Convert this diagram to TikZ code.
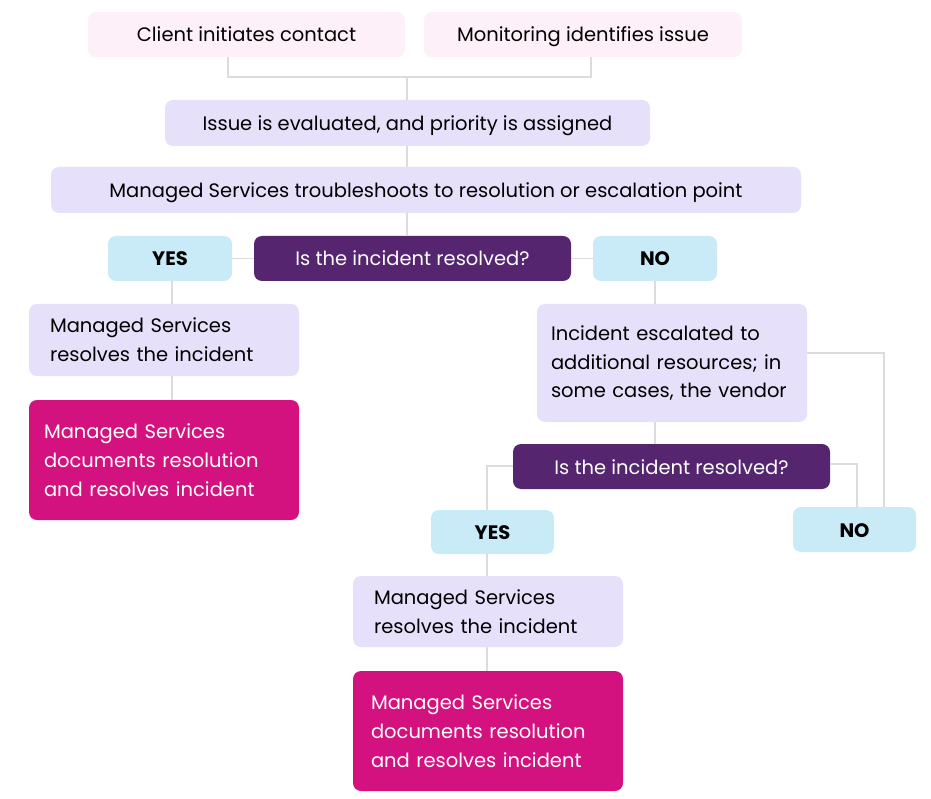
\documentclass[tikz,border=0pt]{standalone}
\usepackage{fontspec}
\setmainfont{Poppins}
\definecolor{pinkbg}{HTML}{FDF0F8}
\definecolor{lav}{HTML}{E7E0FB}
\definecolor{dpurple}{HTML}{55256F}
\definecolor{lblue}{HTML}{C9EAF7}
\definecolor{magenta2}{HTML}{D4127F}
\definecolor{conn}{HTML}{DCDCDC}
\begin{document}
\begin{tikzpicture}[x=1pt,y=-1pt,
  base/.style={rectangle,rounded corners=8pt,inner sep=0pt,font=\fontsize{19.5}{28.7}\selectfont},
  oneline/.style={text height=18pt,text depth=3pt},
  topbox/.style={base,oneline,fill=pinkbg,text=black},
  lavbox/.style={base,fill=lav,text=black},
  decbox/.style={base,oneline,fill=dpurple,text=white},
  ansbox/.style={base,oneline,fill=lblue,text=black,font=\fontsize{19.5}{28}\selectfont\bfseries},
  docbox/.style={base,fill=magenta2,text=white},
  conn/.style={draw=conn,line width=1.2pt}]
\useasboundingbox (0,0) rectangle (931,799);
\fill[white] (0,0) rectangle (931,799);
% nodes
\node[topbox,minimum width=317pt,minimum height=45pt] (client) at (246.5,34.5) {Client initiates contact};
\node[topbox,minimum width=318pt,minimum height=45pt] (monit) at (583,34.5) {Monitoring identifies issue};
\node[lavbox,oneline,minimum width=485pt,minimum height=46pt] (issue) at (407.5,123) {Issue is evaluated, and priority is assigned};
\node[lavbox,oneline,minimum width=750pt,minimum height=46pt] (trouble) at (426,190) {Managed Services troubleshoots to resolution or escalation point};
\node[decbox,minimum width=317pt,minimum height=45pt] (dec1) at (412.5,258.5) {Is the incident resolved?};
\node[ansbox,minimum width=124pt,minimum height=45pt] (yes1) at (170,258.5) {YES};
\node[ansbox,minimum width=124pt,minimum height=45pt] (no1) at (655,258.5) {NO};
\node[lavbox,text width=228pt,inner xsep=21pt,minimum height=72pt,align=left] (res1) at (164,340) {Managed Services\\resolves the incident};
\node[docbox,text width=240pt,inner xsep=15pt,minimum height=120pt,align=left] (doc1) at (164,460) {Managed Services\\documents resolution\\and resolves incident};
\node[lavbox,text width=242pt,inner xsep=14pt,minimum height=118pt,align=left] (esc) at (672,363) {Incident escalated to\\additional resources; in\\some cases, the vendor};
\node[decbox,minimum width=317pt,minimum height=45pt] (dec2) at (671.5,466.5) {Is the incident resolved?};
\node[ansbox,minimum width=123pt,minimum height=44pt] (yes2) at (492.5,532) {YES};
\node[ansbox,minimum width=123pt,minimum height=45pt] (no2) at (854.5,529.5) {NO};
\node[lavbox,text width=228pt,inner xsep=21pt,minimum height=71pt,align=left] (res2) at (488,611.5) {Managed Services\\resolves the incident};
\node[docbox,text width=234pt,inner xsep=18pt,minimum height=120pt,align=left] (doc2) at (488,731) {Managed Services\\documents resolution\\and resolves incident};
% connectors
\coordinate (j1) at (407,77);
\draw[conn] (client.south -| 228,0) |- (j1) -| (monit.south -| 591,0);
\draw[conn] (j1) -- (issue.north -| j1);
\draw[conn] (issue.south -| 407,0) -- (trouble.north -| 407,0);
\draw[conn] (trouble.south -| 407,0) -- (dec1.north -| 407,0);
\draw[conn] (dec1.west) -- (yes1.east);
\draw[conn] (dec1.east) -- (no1.west);
\draw[conn] (yes1.south -| 172,0) -- (res1.north -| 172,0);
\draw[conn] (res1.south -| 172,0) -- (doc1.north -| 172,0);
\draw[conn] (no1.south -| 655,0) -- (esc.north -| 655,0);
\draw[conn] (esc.south -| 655,0) -- (dec2.north -| 655,0);
\draw[conn] (esc.east |- 0,353) -| (no2.north -| 884,0);
\draw[conn] (dec2.east |- 0,464) -| (no2.north -| 857,0);
\draw[conn] (dec2.west |- 0,466) -| (yes2.north -| 487,0);
\draw[conn] (yes2.south -| 487,0) -- (res2.north -| 487,0);
\draw[conn] (res2.south -| 487,0) -- (doc2.north -| 487,0);
\end{tikzpicture}
\end{document}
